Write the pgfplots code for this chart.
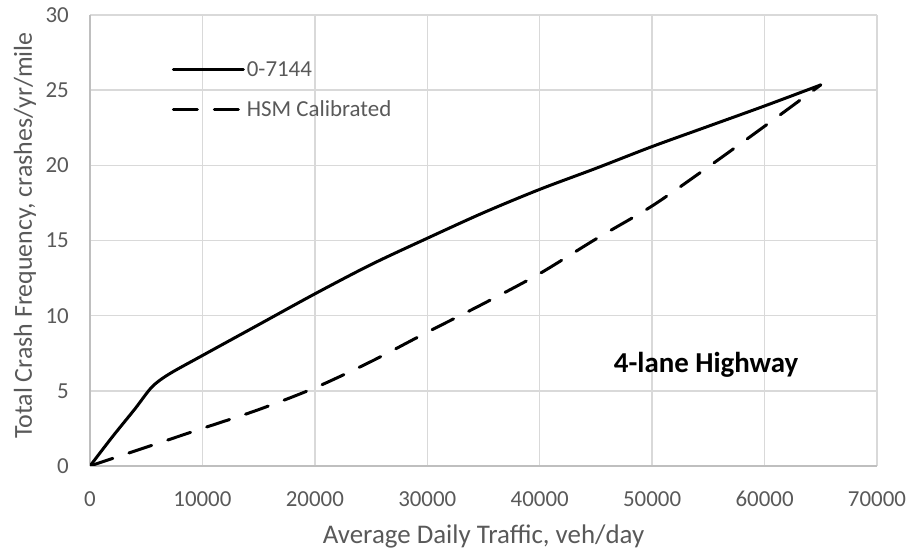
\documentclass[border=0pt]{standalone}
\usepackage{fontspec}
\setmainfont{Carlito}
\usepackage{pgfplots}
\pgfplotsset{compat=1.18}
\definecolor{txtgray}{HTML}{595959}
\definecolor{gridgray}{HTML}{D9D9D9}
\definecolor{axgray}{HTML}{BFBFBF}
\begin{document}
\begin{tikzpicture}
\begin{axis}[
    at={(90bp,86bp)}, anchor=south west,
    scale only axis,
    width=787bp, height=451bp,
    xmin=0, xmax=70000,
    ymin=0, ymax=30,
    xtick={0,10000,...,70000},
    ytick={0,5,...,30},
    scaled x ticks=false,
    /pgf/number format/assume math mode=true,
    /pgf/number format/set thousands separator={},
    grid=major,
    grid style={gridgray, line width=1.5bp},
    axis x line*=bottom, axis y line*=left,
    axis line style={axgray, line width=2bp, -},
    major tick length=0pt,
    ticklabel style={font=\fontsize{23}{27}\selectfont, text=txtgray, inner sep=0pt},
    xticklabel style={anchor=base, yshift=-40bp},
    yticklabel style={anchor=east, xshift=-21bp},
    xlabel={Average Daily Traffic, veh/day},
    ylabel={Total Crash Frequency, crashes/yr/mile},
    label style={text=txtgray, inner sep=0pt},
    xlabel style={font=\fontsize{27}{31}\selectfont, at={(axis description cs:0.5,0)}, anchor=base, yshift=-77bp},
    ylabel style={font=\fontsize{26}{30}\selectfont, at={(axis description cs:0,0.5)}, anchor=center, yshift=65bp, xshift=5bp},
    legend style={at={(axis cs:7000,27.2)}, anchor=north west, draw=none, fill=none,
        font=\fontsize{23}{27}\selectfont, text=txtgray, row sep=19bp,
        /tikz/every even column/.append style={column sep=5bp}},
    legend cell align=left,
    legend image code/.code={\draw[#1] (0bp,0bp) -- (70bp,0bp);},
]
% 0-7144
\addplot[black, line width=3bp, smooth, line cap=round] coordinates {
    (0,0) (2000,1.95) (4000,3.8) (5500,5.25) (7000,6.1) (10000,7.35)
    (15000,9.4) (20000,11.45) (25000,13.4) (30000,15.15) (35000,16.85)
    (40000,18.4) (45000,19.8) (50000,21.25) (55000,22.6) (60000,23.95)
    (65000,25.35)
};
% HSM Calibrated
\addplot[black, line width=3bp, smooth, line cap=round, dash pattern=on 24bp off 17bp] coordinates {
    (0,0) (5000,1.25) (10000,2.5) (15000,3.75) (20000,5.2) (25000,6.95)
    (30000,8.9) (35000,10.8) (40000,12.8) (45000,15.1) (50000,17.3)
    (55000,19.9) (60000,22.6) (65000,25.35)
};
\legend{0-7144, HSM Calibrated}
\node[anchor=base, font=\bfseries\fontsize{29}{34}\selectfont, inner sep=0pt] at (axis cs:54800,6.2) {4-lane Highway};
\end{axis}
\pgfresetboundingbox
\path (0,0) rectangle (910bp,552bp);
\end{tikzpicture}
\end{document}
